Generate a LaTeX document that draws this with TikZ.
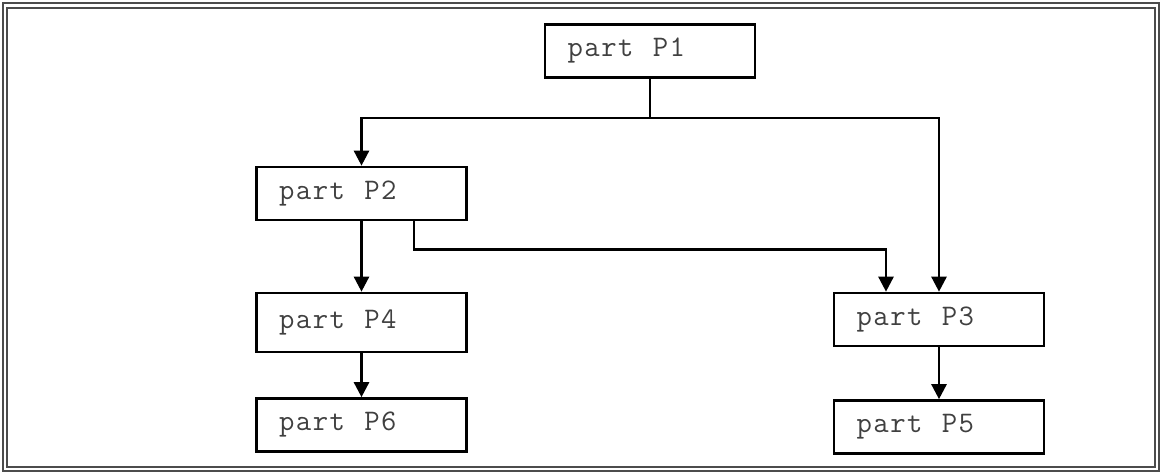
\documentclass[tikz,border=0pt]{standalone}
\usepackage{fontspec}
\setmonofont{Latin Modern Mono}[LetterSpace=5]
\usetikzlibrary{arrows.meta}

\begin{document}
\begin{tikzpicture}[
  partbox/.style={draw, line width=1.5pt, minimum width=4.2cm, minimum height=1.06cm,
    text width=3.3cm, align=left, inner xsep=0.45cm,
    font=\ttfamily\fontsize{17}{20}\selectfont, text=black!75,
    execute at begin node={\spaceskip=11pt\relax}},
  link/.style={line width=1.5pt, -{Triangle[width=0.3cm,length=0.3cm]}}
]

\useasboundingbox (0,0) rectangle (23.38,9.48);

%--- FRAME ---
\draw[gray!60!black, line width=0.8pt] (0.06,0.06) rectangle (23.18,9.42);
\draw[gray!60!black, line width=0.8pt] (0.14,0.14) rectangle (23.10,9.32);

%--- PARTS ---
\node[partbox] (P1) at (13.0,8.46) {part P1};
\node[partbox] (P2) at (7.23,5.61) {part P2};
\node[partbox, minimum height=1.18cm] (P4) at (7.23,3.03) {part P4};
\node[partbox] (P6) at (7.23,0.98) {part P6};
\node[partbox] (P3) at (18.78,3.09) {part P3};
\node[partbox] (P5) at (18.78,0.94) {part P5};

%--- LINKS ---
\coordinate (split) at (13.0,7.12);
\draw[line width=1.5pt] (P1.south) -- (split);
\draw[link] (split) -| (P2.north);
\draw[link] (split) -| (P3.north);

\draw[link] (P2) -- (P4);
\draw[link] (P4) -- (P6);
\draw[link] (P3) -- (P5);

% P2 to P3, round the right
\coordinate (p2out) at ([xshift=1.05cm]P2.south);
\draw[link] (p2out) -- ++(0,-0.56) -| ([xshift=-1.06cm]P3.north);

\end{tikzpicture}
\end{document}
